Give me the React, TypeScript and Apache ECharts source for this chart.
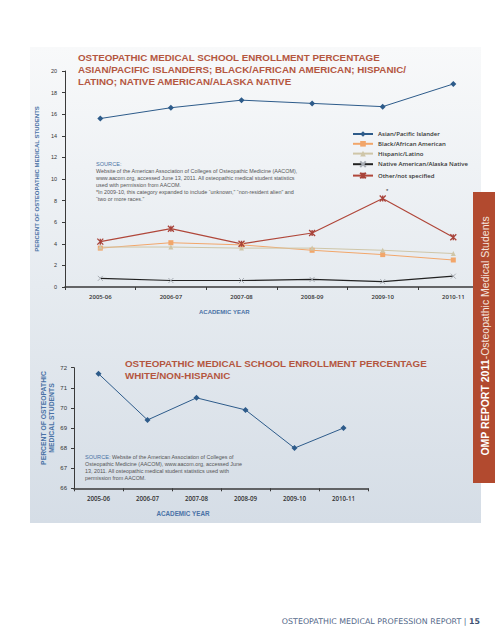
import React, { useEffect, useRef } from "react";
import * as echarts from "echarts";

const years = ["2005-06", "2006-07", "2007-08", "2008-09", "2009-10", "2010-11"];
const asianPacific = [15.6, 16.6, 17.3, 17.0, 16.7, 18.8];
const blackAfrican = [3.6, 4.1, 3.9, 3.4, 3.0, 2.5];
const hispanicLatino = [3.7, 3.7, 3.6, 3.6, 3.4, 3.1];
const nativeAmerican = [0.8, 0.6, 0.6, 0.7, 0.5, 1.0];
const otherNotSpecified = [4.2, 5.4, 4.0, 5.0, 8.2, 4.6];
const whiteNonHispanic = [71.7, 69.4, 70.5, 69.9, 68.0, 69.0];

const topAxis = { min: 0, max: 20, interval: 2 };
const bottomAxis = { min: 66, max: 72, interval: 1 };

const topTitle = [
  "OSTEOPATHIC MEDICAL SCHOOL ENROLLMENT PERCENTAGE",
  "ASIAN/PACIFIC ISLANDERS; BLACK/AFRICAN AMERICAN; HISPANIC/",
  "LATINO; NATIVE AMERICAN/ALASKA NATIVE",
];
const bottomTitle = ["OSTEOPATHIC MEDICAL SCHOOL ENROLLMENT PERCENTAGE", "WHITE/NON-HISPANIC"];
const topSource = [
  "Website of the American Association of Colleges of Osteopathic Medicine (AACOM),",
  "www.aacom.org, accessed June 13, 2011. All osteopathic medical student statistics",
  "used with permission from AACOM.",
  "*In 2009-10, this category expanded to include \u201Cunknown,\u201D \u201Cnon-resident alien\u201D and",
  "\u201Ctwo or more races.\u201D",
];
const bottomSource = [
  "Website of the American Association of Colleges of",
  "Osteopathic Medicine (AACOM), www.aacom.org, accessed June",
  "13, 2011. All osteopathic medical student statistics used with",
  "permission from AACOM.",
];

const RED = "#b4563f";
const BLUE_T = "#4a72a6";
const FONT = "Liberation Sans, Arial, sans-serif";

export default function App() {
  const ref = useRef<HTMLDivElement>(null);
  useEffect(() => {
    if (!ref.current) return;
    const chart = echarts.init(ref.current, undefined, { renderer: "svg" });
    const xPath = "path://M0,0L10,10M10,0L0,10";
    const starPath = "path://M0,0L10,10M10,0L0,10M5,0L5,10";
    const catAxisCommon = {
      type: "category" as const,
      data: years,
      boundaryGap: true,
      axisLine: { lineStyle: { color: "#3a3a3a", width: 1.5 } },
      axisTick: { show: true, alignWithLabel: false, length: 3, lineStyle: { color: "#3a3a3a" } },
    };
    const option: any = {
      animation: false,
      backgroundColor: "#ffffff",
      textStyle: { fontFamily: FONT },
      grid: [
        { left: 65, top: 71, right: 6.4, bottom: 353, containLabel: false },
        { left: 74, top: 367.7, right: 127, bottom: 151.7, containLabel: false },
      ],
      legend: {
        orient: "vertical",
        left: 347,
        top: 126,
        itemGap: 3.8,
        itemWidth: 20,
        itemHeight: 7,
        textStyle: { fontFamily: "Open Sans", fontWeight: 600, fontSize: 6, color: "#333" },
        data: [
          "Asian/Pacific Islander",
          "Black/African American",
          "Hispanic/Latino",
          "Native American/Alaska Native",
          "Other/not specified",
        ],
      },
      xAxis: [
        {
          ...catAxisCommon,
          gridIndex: 0,
          axisLabel: { fontSize: 6, color: "#333", margin: 7, fontFamily: "Open Sans", fontWeight: 600 },
          name: "ACADEMIC YEAR",
          nameLocation: "middle",
          nameGap: 22,
          nameTextStyle: { fontSize: 6, color: BLUE_T, fontWeight: "bold", fontFamily: FONT, padding: [0, 0, 0, -105] },
        },
        {
          ...catAxisCommon,
          gridIndex: 1,
          axisLabel: { fontSize: 6.2, color: "#333", margin: 7, fontFamily: "Open Sans", fontWeight: 600 },
          name: "ACADEMIC YEAR",
          nameLocation: "middle",
          nameGap: 22,
          nameTextStyle: { fontSize: 6.3, color: BLUE_T, fontWeight: "bold", fontFamily: FONT, padding: [0, 0, 0, -76] },
        },
      ],
      yAxis: [
        {
          type: "value",
          gridIndex: 0,
          ...topAxis,
          axisLine: { show: true, lineStyle: { color: "#3a3a3a", width: 1 } },
          axisTick: { show: true, length: 3, lineStyle: { color: "#3a3a3a" } },
          splitLine: { show: false },
          axisLabel: { fontSize: 5.5, color: "#333", margin: 8 },
          name: "PERCENT OF OSTEOPATHIC MEDICAL STUDENTS",
          nameLocation: "middle",
          nameGap: 17,
          nameTextStyle: { fontSize: 6, color: BLUE_T, fontWeight: "bold" },
        },
        {
          type: "value",
          gridIndex: 1,
          ...bottomAxis,
          axisLine: { show: true, lineStyle: { color: "#3a3a3a", width: 1 } },
          axisTick: { show: true, length: 3, lineStyle: { color: "#3a3a3a" } },
          splitLine: { show: false },
          axisLabel: { fontSize: 6, color: "#333", margin: 7 },
        },
      ],
      series: [
        {
          name: "Asian/Pacific Islander",
          type: "line",
          xAxisIndex: 0,
          yAxisIndex: 0,
          data: asianPacific,
          symbol: "diamond",
          symbolSize: 6,
          itemStyle: { color: "#2d5b8a" },
          lineStyle: { color: "#2d5b8a", width: 1 },
        },
        {
          name: "Black/African American",
          type: "line",
          xAxisIndex: 0,
          yAxisIndex: 0,
          data: blackAfrican,
          symbol: "rect",
          symbolSize: 5,
          itemStyle: { color: "#f2a66a" },
          lineStyle: { color: "#f2a66a", width: 1 },
        },
        {
          name: "Hispanic/Latino",
          type: "line",
          xAxisIndex: 0,
          yAxisIndex: 0,
          data: hispanicLatino,
          symbol: "triangle",
          symbolSize: 5,
          itemStyle: { color: "#cfc6a8" },
          lineStyle: { color: "#cfc6a8", width: 1 },
        },
        {
          name: "Native American/Alaska Native",
          type: "line",
          xAxisIndex: 0,
          yAxisIndex: 0,
          data: nativeAmerican,
          symbol: xPath,
          symbolSize: 5,
          itemStyle: { color: "#a8adb4", borderColor: "#a8adb4", borderWidth: 1 },
          lineStyle: { color: "#222", width: 1.2 },
        },
        {
          name: "Other/not specified",
          type: "line",
          xAxisIndex: 0,
          yAxisIndex: 0,
          data: otherNotSpecified.map((v, i) =>
            i === 4
              ? { value: v, label: { show: true, formatter: "*", position: [7, -7], fontSize: 6, color: "#333" } }
              : v
          ),
          symbol: starPath,
          symbolSize: 6,
          itemStyle: { color: "#a8433a", borderColor: "#a8433a", borderWidth: 1.3 },
          lineStyle: { color: "#b0473a", width: 1.2 },
        },
        {
          name: "White/Non-Hispanic",
          type: "line",
          xAxisIndex: 1,
          yAxisIndex: 1,
          data: whiteNonHispanic,
          symbol: "diamond",
          symbolSize: 6,
          itemStyle: { color: "#2d5b8a" },
          lineStyle: { color: "#2d5b8a", width: 1 },
        },
      ],
      graphic: [
        {
          type: "rect",
          z: -10,
          shape: { x: 30, y: 47, width: 451, height: 476 },
          style: {
            fill: new echarts.graphic.LinearGradient(0, 0, 0, 1, [
              { offset: 0, color: "#f8f9fa" },
              { offset: 0.5, color: "#e6ebf0" },
              { offset: 1, color: "#d5dde6" },
            ]),
          },
        },
        {
          type: "text",
          left: 78,
          top: 51,
          z: 10,
          style: { text: topTitle.join("\n"), fontSize: 9.8, lineHeight: 12, fontWeight: "bold", fill: RED, fontFamily: FONT },
        },
        {
          type: "text",
          left: 125,
          top: 357,
          z: 10,
          style: { text: bottomTitle.join("\n"), fontSize: 9.8, lineHeight: 12, fontWeight: "bold", fill: RED, fontFamily: FONT },
        },
        {
          type: "text",
          left: 96,
          top: 160,
          z: 10,
          style: {
            text: "{s|SOURCE:}\n" + topSource.join("\n"),
            fontSize: 5.4,
            lineHeight: 7,
            fill: "#555",
            fontFamily: FONT,
            rich: { s: { fill: BLUE_T, fontSize: 5.6, fontFamily: FONT, lineHeight: 7 } },
          },
        },
        {
          type: "text",
          left: 85,
          top: 453,
          z: 10,
          style: {
            text: "{s|SOURCE:} " + bottomSource.join("\n"),
            fontSize: 5.4,
            lineHeight: 7.2,
            fill: "#555",
            fontFamily: FONT,
            rich: { s: { fill: BLUE_T, fontSize: 5.6, fontFamily: FONT, lineHeight: 7.2 } },
          },
        },
        {
          type: "text",
          x: 47,
          y: 418,
          rotation: Math.PI / 2,
          z: 10,
          style: {
            text: "PERCENT OF OSTEOPATHIC\nMEDICAL STUDENTS",
            fontSize: 6.8,
            lineHeight: 8,
            fontWeight: "bold",
            fill: BLUE_T,
            fontFamily: FONT,
            align: "center",
            verticalAlign: "middle",
          },
        },
        {
          type: "rect",
          z: 100,
          shape: { x: 473, y: 192, width: 22, height: 291 },
          style: { fill: "#b24a2f" },
        },
        {
          type: "text",
          x: 485,
          y: 336,
          rotation: Math.PI / 2,
          z: 101,
          style: {
            text: "{b|OMP REPORT 2011}{r|-Osteopathic Medical Students}",
            align: "center",
            verticalAlign: "middle",
            rich: {
              b: { fontSize: 10.5, fontWeight: "bold", fill: "#ffffff", fontFamily: FONT },
              r: { fontSize: 10.5, fill: "#f4e4de", fontFamily: FONT },
            },
          },
        },
        {
          type: "text",
          right: 15,
          top: 617,
          z: 10,
          style: {
            text: "OSTEOPATHIC MEDICAL PROFESSION REPORT | {n|15}",
            fontSize: 7.9,
            fill: "#55698a",
            fontFamily: "DejaVu Sans",
            rich: { n: { fontSize: 7.9, fontWeight: "bold", fill: "#3d5273", fontFamily: "DejaVu Sans" } },
          },
        },
      ],
    };
    chart.setOption(option);
    return () => chart.dispose();
  }, []);
  return <div ref={ref} style={{ position: "fixed", left: 0, top: 0, width: 495, height: 640 }} />;
}
